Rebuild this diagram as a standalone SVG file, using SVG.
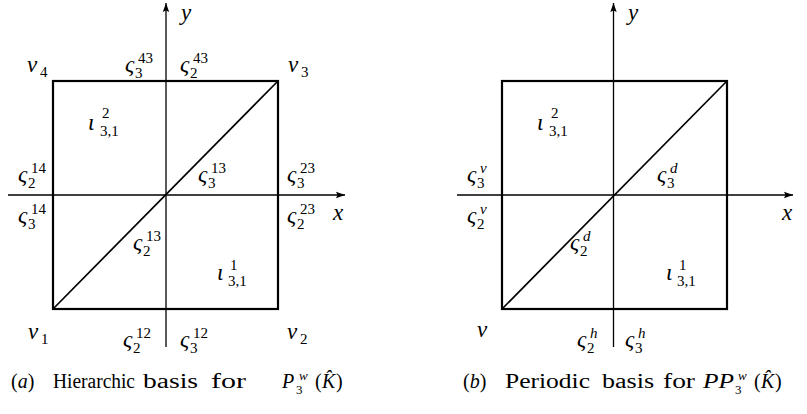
<svg xmlns="http://www.w3.org/2000/svg" width="807" height="414" viewBox="0 0 807 414">
<defs>
<marker id="arr" markerUnits="userSpaceOnUse" markerWidth="10" markerHeight="8" refX="9" refY="4" orient="auto">
<path d="M0,0.8 L9,4 L0,7.2 L1.5,4 Z" fill="#000"/>
</marker>
<style>
.sq{fill:none;stroke:#000;stroke-width:2.2}
.ax{fill:none;stroke:#000;stroke-width:1.3}
.dg{fill:none;stroke:#000;stroke-width:1.7}
text{font-family:"Liberation Serif","Times New Roman",serif;fill:#000}
.m{font-style:italic;font-size:23px}
.s{font-style:normal;font-size:15px}
.si{font-style:italic;font-size:15px}
.c{font-size:20px}
.ci{font-size:20px;font-style:italic}
.cs{font-size:13px}
.csi{font-size:13px;font-style:italic}
</style>
</defs>
<rect width="807" height="414" fill="#fff"/>

<g id="connectors">
<line class="ax" x1="166" y1="347" x2="166" y2="3" marker-end="url(#arr)"/>
<line class="ax" x1="8" y1="195" x2="345" y2="195" marker-end="url(#arr)"/>
<line class="ax" x1="613.5" y1="347" x2="613.5" y2="3" marker-end="url(#arr)"/>
<line class="ax" x1="457" y1="195" x2="793" y2="195" marker-end="url(#arr)"/>
<line class="dg" x1="53" y1="309" x2="278" y2="81"/>
<line class="dg" x1="502" y1="309" x2="727" y2="81"/>
</g>

<g id="panel-a">
<rect id="square-a" class="sq" x="53" y="81" width="225" height="228"/>
<g id="labels-a">
<text class="m" x="181" y="20">y</text>
<text class="m" x="333" y="220">x</text>
<text class="m" x="27" y="72">ν<tspan class="s" x="40" y="77">4</tspan></text>
<text class="m" x="288" y="72">ν<tspan class="s" x="301" y="77">3</tspan></text>
<text class="m" x="28" y="339">ν<tspan class="s" x="41" y="344">1</tspan></text>
<text class="m" x="287" y="339">ν<tspan class="s" x="300" y="344">2</tspan></text>
<text class="m" x="125" y="72">ς<tspan class="s" x="135" y="78">3</tspan><tspan class="s" x="138" y="63">43</tspan></text>
<text class="m" x="180" y="72">ς<tspan class="s" x="190" y="78">2</tspan><tspan class="s" x="193" y="63">43</tspan></text>
<text class="m" x="88" y="130">ι<tspan class="s" x="100" y="136">3,1</tspan><tspan class="s" x="102" y="118">2</tspan></text>
<text class="m" x="18" y="182">ς<tspan class="s" x="28" y="188">2</tspan><tspan class="s" x="31" y="173">14</tspan></text>
<text class="m" x="18" y="223">ς<tspan class="s" x="28" y="229">3</tspan><tspan class="s" x="31" y="214">14</tspan></text>
<text class="m" x="198" y="182">ς<tspan class="s" x="208" y="188">3</tspan><tspan class="s" x="211" y="173">13</tspan></text>
<text class="m" x="287" y="182">ς<tspan class="s" x="297" y="188">3</tspan><tspan class="s" x="300" y="173">23</tspan></text>
<text class="m" x="287" y="223">ς<tspan class="s" x="297" y="229">2</tspan><tspan class="s" x="300" y="214">23</tspan></text>
<text class="m" x="133" y="250">ς<tspan class="s" x="143" y="256">2</tspan><tspan class="s" x="146" y="241">13</tspan></text>
<text class="m" x="217" y="280">ι<tspan class="s" x="228" y="286">3,1</tspan><tspan class="s" x="230" y="270">1</tspan></text>
<text class="m" x="123" y="347">ς<tspan class="s" x="133" y="353">2</tspan><tspan class="s" x="136" y="338">12</tspan></text>
<text class="m" x="180" y="347">ς<tspan class="s" x="190" y="353">3</tspan><tspan class="s" x="193" y="338">12</tspan></text>
</g>
<text id="caption-a" class="c" x="11" y="388">(<tspan class="ci">a</tspan>)<tspan x="53" textLength="82" lengthAdjust="spacingAndGlyphs">Hierarchic</tspan><tspan x="143" textLength="55" lengthAdjust="spacingAndGlyphs">basis</tspan><tspan x="211" textLength="35" lengthAdjust="spacingAndGlyphs">for</tspan><tspan class="ci" x="282">P</tspan><tspan class="cs" x="296" y="394">3</tspan><tspan class="csi" x="299" y="380">w</tspan><tspan x="315" y="388">(</tspan><tspan class="ci" x="322">K̂</tspan><tspan x="336">)</tspan></text>
</g>

<g id="panel-b">
<rect id="square-b" class="sq" x="502" y="81" width="225" height="228"/>
<g id="labels-b">
<text class="m" x="628" y="20">y</text>
<text class="m" x="782" y="220">x</text>
<text class="m" x="477" y="337">ν</text>
<text class="m" x="537" y="130">ι<tspan class="s" x="549" y="136">3,1</tspan><tspan class="s" x="551" y="118">2</tspan></text>
<text class="m" x="467" y="182">ς<tspan class="s" x="477" y="188">3</tspan><tspan class="si" x="480" y="173">v</tspan></text>
<text class="m" x="467" y="223">ς<tspan class="s" x="477" y="229">2</tspan><tspan class="si" x="480" y="214">v</tspan></text>
<text class="m" x="657" y="182">ς<tspan class="s" x="667" y="188">3</tspan><tspan class="si" x="670" y="173">d</tspan></text>
<text class="m" x="570" y="250">ς<tspan class="s" x="580" y="256">2</tspan><tspan class="si" x="583" y="241">d</tspan></text>
<text class="m" x="666" y="280">ι<tspan class="s" x="677" y="286">3,1</tspan><tspan class="s" x="679" y="270">1</tspan></text>
<text class="m" x="577" y="347">ς<tspan class="s" x="587" y="353">2</tspan><tspan class="si" x="590" y="338">h</tspan></text>
<text class="m" x="625" y="347">ς<tspan class="s" x="635" y="353">3</tspan><tspan class="si" x="638" y="338">h</tspan></text>
</g>
<text id="caption-b" class="c" x="463" y="388">(<tspan class="ci">b</tspan>)<tspan x="505" textLength="85" lengthAdjust="spacingAndGlyphs">Periodic</tspan><tspan x="602" textLength="52" lengthAdjust="spacingAndGlyphs">basis</tspan><tspan x="663" textLength="32" lengthAdjust="spacingAndGlyphs">for</tspan><tspan class="ci" x="703" textLength="31" lengthAdjust="spacingAndGlyphs">PP</tspan><tspan class="cs" x="735" y="394">3</tspan><tspan class="csi" x="738" y="380">w</tspan><tspan x="754" y="388">(</tspan><tspan class="ci" x="761">K̂</tspan><tspan x="775">)</tspan></text>
</g>
</svg>
